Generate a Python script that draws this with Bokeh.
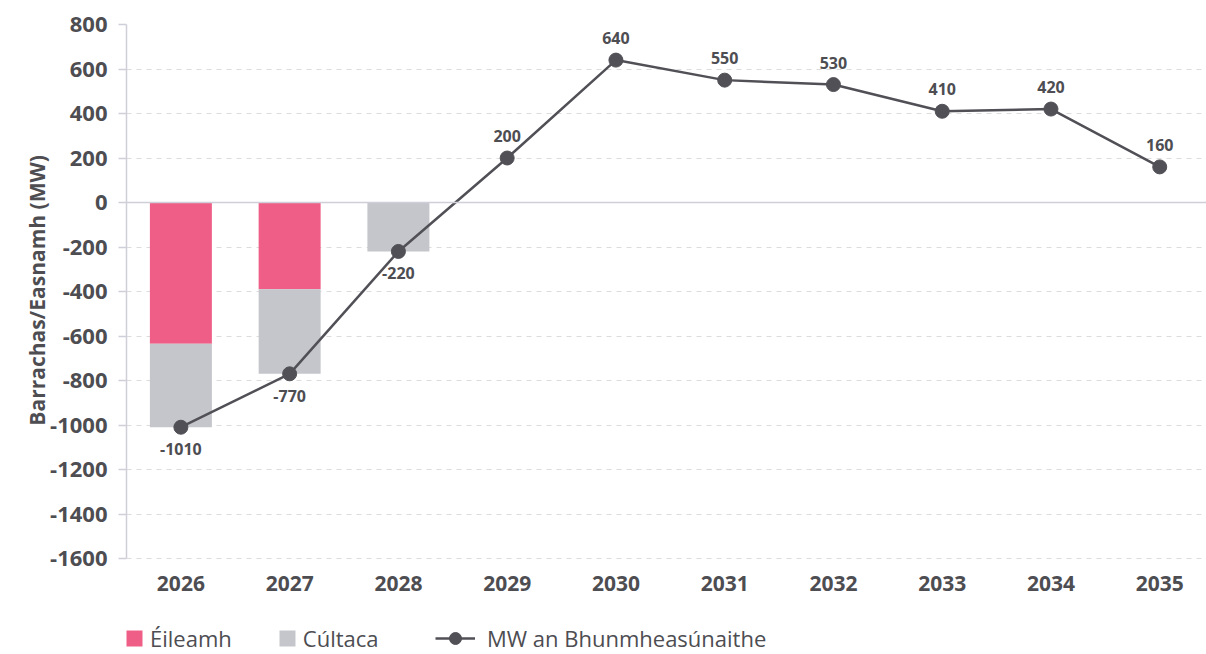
from bokeh.plotting import figure
from bokeh.models import (ColumnDataSource, Legend, LegendItem, FixedTicker,
                          Span, Range1d)
from bokeh.embed import file_html
from bokeh.resources import INLINE
from bokeh.core.properties import value

years = ["2026", "2027", "2028", "2029", "2030", "2031", "2032", "2033", "2034", "2035"]
eileamh = [-635, -390, 0, 0, 0, 0, 0, 0, 0, 0]
cultaca = [-375, -380, -220, 0, 0, 0, 0, 0, 0, 0]
mw = [-1010, -770, -220, 200, 640, 550, 530, 410, 420, 160]
y_ticks = [800, 600, 400, 200, 0, -200, -400, -600, -800, -1000, -1200, -1400, -1600]
y_title = "Barrachas/Easnamh (MW)"

PINK = "#EF5E86"
GREY = "#C5C6CB"
DARK = "#505056"
TEXT = "#4D4D52"
AXIS = "#CFCFDA"
FONT = "Open Sans"

y_top = max(y_ticks)
y_bot = min(y_ticks)
px_per_unit = 534 / (y_top - y_bot)
frame_h = 630
y_start = y_top - frame_h / px_per_unit

xs = list(range(len(years)))
src = ColumnDataSource(dict(
    x=xs,
    e_top=[0] * len(years),
    e_bot=eileamh,
    c_top=eileamh,
    c_bot=[a + b for a, b in zip(eileamh, cultaca)],
    mw=mw,
    lbl=[str(v) for v in mw],
    off=[22 if v < 0 else -22 for v in mw],
))
xsrc = ColumnDataSource(dict(x=xs, y=[y_bot] * len(years), t=years))

p = figure(frame_width=1080, frame_height=frame_h, output_backend="svg",
           toolbar_location=None, x_range=Range1d(-0.5, 9.43),
           y_range=Range1d(y_start, y_top), x_axis_location=None,
           min_border_left=126, min_border_right=0, min_border_top=24,
           min_border_bottom=0)
p.outline_line_color = None
p.background_fill_color = "white"
p.border_fill_color = "white"

r_e = p.vbar(x="x", top="e_top", bottom="e_bot", width=0.57, source=src,
             fill_color=PINK, line_color=None)
r_c = p.vbar(x="x", top="c_top", bottom="c_bot", width=0.57, source=src,
             fill_color=GREY, line_color=None)

zero = Span(location=0, dimension="width", line_color=AXIS, line_width=1.5)
p.add_layout(zero)

r_l = p.line(x="x", y="mw", source=src, line_color=DARK, line_width=2.5)
r_s = p.scatter(x="x", y="mw", source=src, size=14, fill_color=DARK,
                line_color=DARK)
p.text(x="x", y="mw", text="lbl", y_offset="off", source=src,
       text_align="center", text_baseline="middle",
       text_font=value(FONT), text_font_style="bold",
       text_font_size="16px", text_color=TEXT)

# x-axis category labels
p.text(x="x", y="y", text="t", source=xsrc, y_offset=25,
       text_align="center", text_baseline="middle",
       text_font=value(FONT), text_font_style="bold",
       text_font_size="21px", text_color=TEXT)

# grid
p.xgrid.grid_line_color = None
p.ygrid.ticker = FixedTicker(ticks=y_ticks)
p.ygrid.grid_line_color = "#DCDCDC"
p.ygrid.grid_line_dash = "5 5"
p.ygrid.grid_line_width = 1

# y axis
p.yaxis.ticker = FixedTicker(ticks=y_ticks)
p.yaxis.bounds = (y_bot, y_top)
p.yaxis.major_label_overrides = {t: str(t) for t in y_ticks}
p.yaxis.axis_line_color = AXIS
p.yaxis.axis_line_width = 1.5
p.yaxis.major_tick_line_color = AXIS
p.yaxis.major_tick_line_width = 1.5
p.yaxis.major_tick_in = 0
p.yaxis.major_tick_out = 8
p.yaxis.minor_tick_line_color = None
p.yaxis.major_label_text_font = FONT
p.yaxis.major_label_text_font_style = "bold"
p.yaxis.major_label_text_font_size = "22px"
p.yaxis.major_label_text_color = TEXT
p.yaxis.major_label_standoff = 11
# leading no-break spaces keep the title centred on the -1600..800 span
p.yaxis.axis_label = "\u00a0" * 18 + y_title
p.yaxis.axis_label_text_font = FONT
p.yaxis.axis_label_text_font_style = "bold"
p.yaxis.axis_label_text_font_size = "21px"
p.yaxis.axis_label_text_color = TEXT
p.yaxis.axis_label_standoff = -4

# legends
common = dict(orientation="horizontal", padding=0, margin=0,
              border_line_color=None, background_fill_alpha=0,
              label_text_font=FONT, label_text_font_size="22px",
              label_text_color=TEXT, label_text_font_style="normal")
leg1 = Legend(items=[LegendItem(label="Éileamh", renderers=[r_e]),
                     LegendItem(label="Cúltaca", renderers=[r_c])],
              location=(-2, 1), glyph_width=20, glyph_height=20,
              label_height=20, label_standoff=6, spacing=45, **common)
leg2 = Legend(items=[LegendItem(label="MW an Bhunmheasúnaithe", renderers=[r_l, r_s])],
              location=(309, 1), glyph_width=40, glyph_height=30,
              label_height=20, label_standoff=12, **common)
p.add_layout(leg1, "center")
p.add_layout(leg2, "center")

open("out.html", "w").write(file_html(p, INLINE))
